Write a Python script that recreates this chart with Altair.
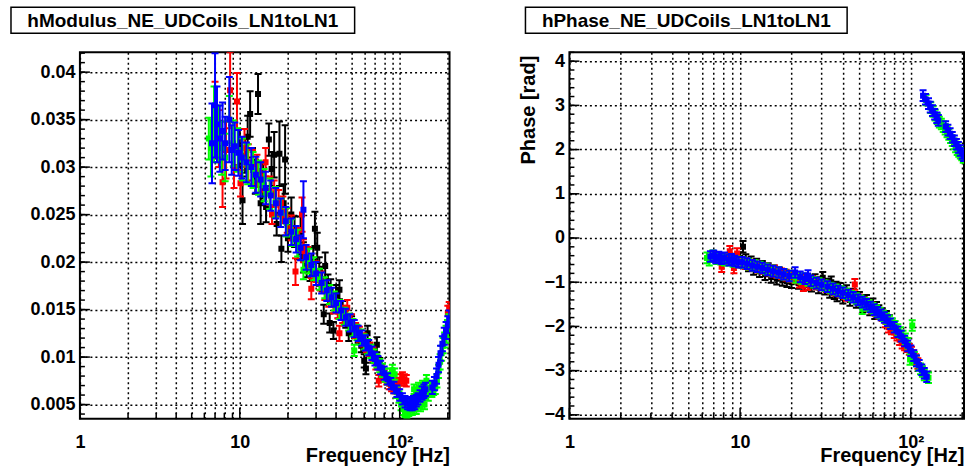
import altair as alt
import pandas as pd

FONT = "Liberation Sans"

# ---------------- data ----------------
BLACK_F = [10.0, 10.4, 10.8, 11.2, 11.6, 12.0, 12.5, 13.0, 13.5, 14.0, 14.6, 15.2, 15.8, 16.4, 17.0,
           17.7, 18.2, 18.8, 19.2, 20.0, 21.0, 22.0, 23.0, 24.0, 25.0, 26.2, 27.5, 28.8, 29.5, 30.5,
           31.4, 32.8, 33.5, 34.2, 35.6, 36.5, 37.0, 38.5, 40.0, 42.0, 44.0, 46.0, 48.0, 50.0, 52.5,
           55.0, 57.5, 60.0, 61.5, 63.0, 65.0, 68.0, 72.0, 75.0]
BLACK_MOD = [0.0320, 0.0265, 0.0312, 0.0332, 0.0356, 0.0300, 0.0290, 0.0377, 0.0262, 0.0285, 0.0258,
             0.0329, 0.0298, 0.0313, 0.0240, 0.0314, 0.0214, 0.0262, 0.0308, 0.0225, 0.0250, 0.0232,
             0.0218, 0.0228, 0.0205, 0.0198, 0.0193, 0.0200, 0.0235, 0.0215, 0.0190, 0.0182, 0.0145,
             0.0196, 0.0175, 0.0136, 0.0170, 0.0128, 0.0165, 0.0171, 0.0150, 0.0140, 0.0125, 0.0135,
             0.0128, 0.0122, 0.0112, 0.0096, 0.0088, 0.0125, 0.0108, 0.0100, 0.0113, 0.0093]
BLACK_MOD_ERR = [0.0020, 0.0025, 0.0018, 0.0022, 0.0024, 0.0020, 0.0018, 0.0021, 0.0022, 0.0018, 0.0016,
                 0.0017, 0.0018, 0.0024, 0.0012, 0.0034, 0.0014, 0.0020, 0.0036, 0.0014, 0.0018, 0.0016,
                 0.0015, 0.0020, 0.0016, 0.0014, 0.0013, 0.0015, 0.0018, 0.0016, 0.0015, 0.0013, 0.0010,
                 0.0014, 0.0012, 0.0010, 0.0012, 0.0009, 0.0011, 0.0010, 0.0009, 0.0009, 0.0008, 0.0008,
                 0.0008, 0.0007, 0.0007, 0.0007, 0.0006, 0.0008, 0.0007, 0.0006, 0.0008, 0.0006]
BLACK_PHASE = [-0.45, -0.20, -0.50, -0.62, -0.55, -0.70, -0.60, -0.75, -0.65, -0.82, -0.70, -0.88, -0.75,
               -0.92, -0.80, -0.95, -0.85, -0.98, -0.88, -1.00, -0.90, -1.02, -0.95, -1.05, -0.98, -1.08,
               -0.95, -1.12, -1.02, -0.90, -1.15, -1.05, -1.22, -1.00, -1.25, -1.12, -1.30, -1.15, -1.35,
               -1.20, -1.40, -1.28, -1.45, -1.35, -1.55, -1.42, -1.62, -1.50, -1.70, -1.58, -1.65, -1.72,
               -1.78, -1.88]
BLACK_PHASE_ERR = 0.13

RED_F = [7.0, 7.4, 7.8, 8.2, 8.7, 9.2, 9.6, 10.1, 10.7, 11.3, 12.0, 12.8, 13.6, 14.5, 15.4, 15.9, 16.4,
         17.5, 18.6, 19.8, 21.0, 22.3, 23.5, 24.5, 25.0, 26.5, 28.0, 30.0, 32.0, 34.0, 36.0, 38.5, 41.0,
         42.0, 44.0, 47.0, 50.0, 53.0, 56.0, 59.0, 62.0, 65.0, 68.0, 71.0, 74.0, 77.0, 80.0, 83.0, 86.0,
         89.0, 92.0, 95.0, 98.0, 101.0, 104.0, 107.0, 110.0, 200.0, 204.0]
RED_MOD = [0.0350, 0.0330, 0.0284, 0.0318, 0.0381, 0.0300, 0.0369, 0.0283, 0.0320, 0.0305, 0.0300, 0.0296,
           0.0290, 0.0305, 0.0275, 0.0250, 0.0272, 0.0262, 0.0255, 0.0244, 0.0236, 0.0190, 0.0224, 0.0250,
           0.0212, 0.0205, 0.0172, 0.0190, 0.0180, 0.0170, 0.0163, 0.0155, 0.0150, 0.0125, 0.0145, 0.0152,
           0.0137, 0.0128, 0.0124, 0.0118, 0.0112, 0.0108, 0.0103, 0.0094, 0.0075, 0.0086, 0.0080, 0.0077,
           0.0072, 0.0070, 0.0068, 0.0068, 0.0072, 0.0076, 0.0078, 0.0076, 0.0075, 0.0146, 0.0152]
RED_MOD_ERR = [0.0040, 0.0030, 0.0026, 0.0030, 0.0040, 0.0022, 0.0030, 0.0014, 0.0020, 0.0019, 0.0018,
               0.0017, 0.0016, 0.0015, 0.0015, 0.0010, 0.0014, 0.0014, 0.0014, 0.0013, 0.0013, 0.0014,
               0.0012, 0.0018, 0.0012, 0.0011, 0.0011, 0.0011, 0.0010, 0.0010, 0.0010, 0.0009, 0.0009,
               0.0008, 0.0009, 0.0008, 0.0008, 0.0008, 0.0008, 0.0007, 0.0007, 0.0007, 0.0007, 0.0007,
               0.0006, 0.0006, 0.0006, 0.0006, 0.0006, 0.0006, 0.0006, 0.0006, 0.0006, 0.0006, 0.0006,
               0.0006, 0.0006, 0.0008, 0.0006]
RED_PHASE = [-0.42, -0.45, -0.65, -0.48, -0.30, -0.68, -0.35, -0.55, -0.58, -0.60, -0.62, -0.66, -0.69,
             -0.72, -0.75, -0.74, -0.78, -0.81, -0.84, -0.87, -0.90, -1.00, -1.08, -0.95, -1.05, -0.98,
             -1.04, -1.06, -1.10, -1.14, -1.18, -1.22, -1.26, -1.30, -1.31, -1.05, -1.40, -1.46, -1.52,
             -1.58, -1.64, -1.70, -1.76, -1.90, -2.02, -2.06, -2.14, -2.20, -2.30, -2.38, -2.42, -2.46,
             -2.52, -2.58, -2.66, -2.75, -2.84, 1.90, 1.86]
RED_PHASE_ERR = 0.12

GREEN_F = [6.4, 6.6, 6.9, 7.3, 7.7, 8.1, 8.6, 9.1, 9.7, 10.4, 11.2, 12.1, 13.1, 14.2, 15.4, 16.7, 18.1,
           19.6, 21.2, 23.0, 25.0, 27.0, 29.0, 31.5, 34.0, 36.5, 39.0, 42.0, 45.0, 48.0, 51.0, 52.0, 54.0,
           57.0, 60.0, 63.0, 66.0, 69.0, 72.0, 75.0, 78.0, 81.0, 84.0, 87.0, 90.0, 93.0, 96.0, 99.0,
           102.0, 105.0, 108.0, 111.0, 114.0, 117.0, 120.0, 123.0, 127.0, 131.0, 135.0, 139.0, 143.0,
           147.0, 151.0, 155.0, 159.0, 163.0, 167.0, 171.0, 175.0, 179.0, 183.0, 187.0, 191.0, 195.0,
           199.0, 203.0]
GREEN_MOD = [0.0330, 0.0320, 0.0345, 0.0335, 0.0320, 0.0310, 0.0350, 0.0325, 0.0318, 0.0308, 0.0303,
             0.0297, 0.0289, 0.0281, 0.0272, 0.0263, 0.0252, 0.0242, 0.0231, 0.0220, 0.0192, 0.0201,
             0.0193, 0.0182, 0.0173, 0.0166, 0.0159, 0.0150, 0.0143, 0.0137, 0.0131, 0.0107, 0.0126,
             0.0121, 0.0116, 0.0111, 0.0106, 0.0101, 0.0096, 0.0091, 0.0086, 0.0081, 0.0077, 0.0082,
             0.0086, 0.0082, 0.0063, 0.0058, 0.0050, 0.0045, 0.0042, 0.0041, 0.0043, 0.0050, 0.0044,
             0.0066, 0.0045, 0.0068, 0.0048, 0.0070, 0.0050, 0.0075, 0.0060, 0.0068, 0.0064, 0.0066,
             0.0068, 0.0075, 0.0085, 0.0095, 0.0104, 0.0112, 0.0118, 0.0124, 0.0130, 0.0136]
GREEN_MOD_ERR = [0.0022, 0.0030, 0.0040, 0.0030, 0.0028, 0.0025, 0.0025, 0.0024, 0.0023, 0.0022, 0.0021,
                 0.0019, 0.0018, 0.0017, 0.0016, 0.0016, 0.0015, 0.0015, 0.0014, 0.0014, 0.0010, 0.0013,
                 0.0012, 0.0011, 0.0011, 0.0010, 0.0010, 0.0010, 0.0009, 0.0009, 0.0009, 0.0006, 0.0008,
                 0.0008, 0.0008, 0.0008, 0.0007, 0.0007, 0.0007, 0.0007, 0.0007, 0.0007, 0.0006, 0.0006,
                 0.0006, 0.0006, 0.0006, 0.0006, 0.0006, 0.0006, 0.0005, 0.0005, 0.0005, 0.0005, 0.0005,
                 0.0005, 0.0005, 0.0005, 0.0005, 0.0005, 0.0005, 0.0006, 0.0006, 0.0006, 0.0006, 0.0006,
                 0.0007, 0.0007, 0.0007, 0.0008, 0.0008, 0.0008, 0.0008, 0.0009, 0.0009, 0.0009]
GREEN_PHASE = [-0.45, -0.50, -0.40, -0.47, -0.48, -0.50, -0.50, -0.53, -0.54, -0.56, -0.59, -0.62, -0.66,
               -0.70, -0.74, -0.78, -0.82, -0.86, -0.89, -0.92, -0.96, -1.00, -1.03, -1.08, -1.13, -1.17,
               -1.21, -1.26, -1.32, -1.37, -1.42, -1.60, -1.48, -1.53, -1.59, -1.64, -1.70, -1.76, -1.82,
               -1.88, -1.94, -2.00, -2.07, -2.14, -2.22, -2.28, -2.38, -2.75, -1.98, -2.70, -2.78, -2.88,
               -2.96, -3.02, -3.10, 3.12, -3.16, 2.95, 2.86, 2.78, 2.70, 2.62, 2.58, 2.52, 2.46, 2.40, 2.34,
               2.27, 2.20, 2.13, 2.06, 2.00, 1.96, 1.92, 1.88, 1.82]
GREEN_PHASE_ERR = 0.12

BLUE_F = [6.7, 7.0, 7.2, 7.5, 7.8, 8.1, 8.6, 8.9, 9.3, 9.8, 10.3, 11.0, 11.8, 12.6, 13.5, 14.5, 15.6,
          16.8, 18.0, 19.4, 21.0, 22.5, 24.0, 25.0, 26.0, 28.0, 30.0, 32.5, 35.0, 37.5, 40.0, 43.0, 46.0,
          49.0, 52.0, 55.0, 58.0, 61.0, 64.0, 67.0, 70.0, 73.0, 76.0, 80.0, 84.0, 88.0, 92.0, 96.0,
          100.0, 104.0, 108.0, 112.0, 116.0, 118.0, 120.0, 122.0, 124.0, 127.0, 130.0, 134.0, 138.0,
          142.0, 145.0, 160.0, 165.0, 170.0, 175.0, 180.0, 185.0, 190.0, 195.0, 200.0, 204.0]
BLUE_MOD = [0.0325, 0.0365, 0.0345, 0.0330, 0.0338, 0.0325, 0.0350, 0.0318, 0.0322, 0.0315, 0.0310,
            0.0305, 0.0300, 0.0292, 0.0287, 0.0278, 0.0270, 0.0262, 0.0252, 0.0243, 0.0232, 0.0224,
            0.0215, 0.0255, 0.0205, 0.0197, 0.0188, 0.0178, 0.0170, 0.0163, 0.0157, 0.0149, 0.0142,
            0.0136, 0.0130, 0.0125, 0.0120, 0.0115, 0.0110, 0.0104, 0.0098, 0.0094, 0.0089, 0.0083,
            0.0077, 0.0072, 0.0068, 0.0064, 0.0060, 0.0056, 0.0053, 0.0051, 0.0050, 0.0052, 0.0050,
            0.0053, 0.0051, 0.0054, 0.0056, 0.0059, 0.0062, 0.0064, 0.0066, 0.0068, 0.0072, 0.0080,
            0.0092, 0.0104, 0.0114, 0.0122, 0.0128, 0.0134, 0.0140]
BLUE_MOD_ERR = [0.0042, 0.0055, 0.0040, 0.0035, 0.0030, 0.0028, 0.0045, 0.0026, 0.0025, 0.0024, 0.0022,
                0.0021, 0.0020, 0.0019, 0.0018, 0.0017, 0.0016, 0.0016, 0.0015, 0.0015, 0.0014, 0.0014,
                0.0013, 0.0030, 0.0013, 0.0012, 0.0012, 0.0011, 0.0011, 0.0010, 0.0010, 0.0010, 0.0009,
                0.0009, 0.0009, 0.0008, 0.0008, 0.0008, 0.0008, 0.0007, 0.0007, 0.0007, 0.0007, 0.0007,
                0.0006, 0.0006, 0.0006, 0.0006, 0.0006, 0.0006, 0.0006, 0.0006, 0.0006, 0.0006, 0.0006,
                0.0006, 0.0006, 0.0006, 0.0006, 0.0006, 0.0007, 0.0007, 0.0007, 0.0007, 0.0007, 0.0008,
                0.0008, 0.0008, 0.0008, 0.0009, 0.0009, 0.0009, 0.0009]
BLUE_PHASE = [-0.42, -0.40, -0.45, -0.43, -0.47, -0.45, -0.50, -0.48, -0.52, -0.55, -0.55, -0.58, -0.62,
              -0.65, -0.68, -0.72, -0.75, -0.78, -0.82, -0.86, -0.78, -0.88, -0.92, -0.85, -0.97, -1.02,
              -1.06, -1.10, -1.15, -1.20, -1.24, -1.29, -1.34, -1.40, -1.45, -1.50, -1.56, -1.62, -1.68,
              -1.74, -1.80, -1.87, -1.94, -2.02, -2.12, -2.22, -2.33, -2.44, -2.55, -2.66, -2.78, -2.88,
              -2.98, 3.22, -3.06, 3.14, -3.14, 3.04, 2.96, 2.88, 2.80, 2.72, 2.66, 2.52, 2.44, 2.36, 2.28,
              2.20, 2.12, 2.05, 1.98, 1.91, 1.86]
BLUE_PHASE_ERR = 0.12

SERIES = [
    ("#000000", BLACK_F, BLACK_MOD, BLACK_MOD_ERR, BLACK_PHASE, BLACK_PHASE_ERR),
    ("#ff0000", RED_F, RED_MOD, RED_MOD_ERR, RED_PHASE, RED_PHASE_ERR),
    ("#00ff00", GREEN_F, GREEN_MOD, GREEN_MOD_ERR, GREEN_PHASE, GREEN_PHASE_ERR),
    ("#0000ff", BLUE_F, BLUE_MOD, BLUE_MOD_ERR, BLUE_PHASE, BLUE_PHASE_ERR),
]

TITLE_MOD = "hModulus_NE_UDCoils_LN1toLN1"
TITLE_PHASE = "hPhase_NE_UDCoils_LN1toLN1"
X_TITLE = "Frequency [Hz]"
Y_TITLE_PHASE = "Phase [rad]"

X_GRID = [1, 2, 3, 4, 5, 6, 7, 8, 9, 10, 20, 30, 40, 50, 60, 70, 80, 90, 100, 200]
X_MAJOR = [1, 10, 100]
X_MINOR = [2, 3, 4, 5, 6, 7, 8, 9, 20, 30, 40, 50, 60, 70, 80, 90, 200]
MOD_MAJOR = [0.005, 0.01, 0.015, 0.02, 0.025, 0.03, 0.035, 0.04]
MOD_MINOR = [round(0.004 + 0.001 * i, 3) for i in range(39)]
PH_MAJOR = [-4, -3, -2, -1, 0, 1, 2, 3, 4]
PH_MINOR = [round(-4.0 + 0.2 * i, 1) for i in range(42)]

# ---------------- layout ----------------
H = 367
W_L = 370
W_R = 395
X_DOMAIN = [1, 205]
MOD_DOMAIN = [0.0035, 0.0421]
PH_DOMAIN = [-4.09, 4.203]

x_scale = alt.Scale(type="log", domain=X_DOMAIN, nice=False)


def x_axis(width):
    return alt.Axis(
        values=X_GRID,
        labelExpr="datum.value == 1 ? '1' : datum.value == 10 ? '10' : datum.value == 100 ? '10\u00b2' : ''",
        labelFlush=False, labelOverlap=False, labelPadding=15,
        title=X_TITLE, titleAnchor="end", titleAlign="right",
        titleX=width, titleY=43, titleBaseline="alphabetic",
    )


def panel(width, ykey, ydomain, ymajor, yminor, ytitle, title_text, box_x1, box_x2, text_x, ylabel_fmt):
    y_scale = alt.Scale(domain=ydomain, nice=False, zero=False)
    if ytitle:
        yax = alt.Axis(values=ymajor, format=ylabel_fmt, labelFlush=False, labelOverlap=False,
                       labelPadding=5, title=ytitle, titleAngle=270, titleAlign="right",
                       titleBaseline="middle", titleX=-41, titleY=3)
    else:
        yax = alt.Axis(values=ymajor, format=ylabel_fmt, labelFlush=False, labelOverlap=False,
                       labelPadding=5, title=None)
    xax = x_axis(width)
    X = alt.X("f:Q", scale=x_scale, axis=xax)

    layers = []
    for color, f, m, me, p, pe in SERIES:
        if ykey == "mod":
            d = pd.DataFrame({"f": f, "v": m,
                              "lo": [a - b for a, b in zip(m, me)],
                              "hi": [a + b for a, b in zip(m, me)]})
        else:
            d = pd.DataFrame({"f": f, "v": p,
                              "lo": [a - pe for a in p],
                              "hi": [a + pe for a in p]})
        base = alt.Chart(d)
        layers.append(base.mark_rule(color=color, strokeWidth=2, clip=True).encode(
            x=X, y=alt.Y("lo:Q", scale=y_scale, axis=yax), y2="hi:Q"))
        for col in ("lo", "hi"):
            layers.append(base.mark_rule(color=color, strokeWidth=2, clip=True,
                                         xOffset=-3.5, x2Offset=3.5).encode(
                x=X, x2="f:Q", y=alt.Y(f"{col}:Q", scale=y_scale, axis=yax)))
        layers.append(base.mark_square(color=color, size=36, opacity=1, clip=True).encode(
            x=X, y=alt.Y("v:Q", scale=y_scale, axis=yax)))

    # inward ticks (ROOT style)
    layers.append(alt.Chart(pd.DataFrame({"t": ymajor})).mark_rule(color="black", strokeWidth=1.5).encode(
        y=alt.Y("t:Q", scale=y_scale, axis=yax), x=alt.value(0), x2=alt.value(10)))
    layers.append(alt.Chart(pd.DataFrame({"t": yminor})).mark_rule(color="black", strokeWidth=1.5).encode(
        y=alt.Y("t:Q", scale=y_scale, axis=yax), x=alt.value(0), x2=alt.value(5)))
    layers.append(alt.Chart(pd.DataFrame({"t": X_MAJOR})).mark_rule(color="black", strokeWidth=1.5).encode(
        x=alt.X("t:Q", scale=x_scale, axis=xax), y=alt.value(H), y2=alt.value(H - 11)))
    layers.append(alt.Chart(pd.DataFrame({"t": X_MINOR})).mark_rule(color="black", strokeWidth=1.5).encode(
        x=alt.X("t:Q", scale=x_scale, axis=xax), y=alt.value(H), y2=alt.value(H - 6)))

    # title box
    tdf = pd.DataFrame({"t": [title_text]})
    layers.append(alt.Chart(tdf).mark_rect(fill="white", stroke="black", strokeWidth=1.5).encode(
        x=alt.value(box_x1), x2=alt.value(box_x2), y=alt.value(-45), y2=alt.value(-19)))
    layers.append(alt.Chart(tdf).mark_text(font=FONT, fontSize=19, fontWeight="bold", color="black",
                                           align="center", baseline="middle").encode(
        x=alt.value(text_x), y=alt.value(-31), text="t:N"))

    return alt.layer(*layers).properties(width=width, height=H)


left = panel(W_L, "mod", MOD_DOMAIN, MOD_MAJOR, MOD_MINOR, None, TITLE_MOD, -69, 275, 103, "~g")
right = panel(W_R, "ph", PH_DOMAIN, PH_MAJOR, PH_MINOR, Y_TITLE_PHASE, TITLE_PHASE, -44, 278, 117, "d")

chart = alt.hconcat(left, right, spacing=67).properties(
    padding={"left": 9, "top": 5, "right": 0, "bottom": 0},
    background="white",
).configure_view(
    stroke="black", strokeWidth=2, fill="white"
).configure_axis(
    domain=False, ticks=False, grid=True, gridColor="black", gridDash=[2, 3], gridWidth=1.5,
    gridOpacity=1,
    labelFont=FONT, labelFontSize=18, labelFontWeight="bold", labelColor="black",
    titleFont=FONT, titleFontSize=20, titleFontWeight="bold", titleColor="black",
)

chart.save("out.html", embed_options={"renderer": "svg", "actions": False})
